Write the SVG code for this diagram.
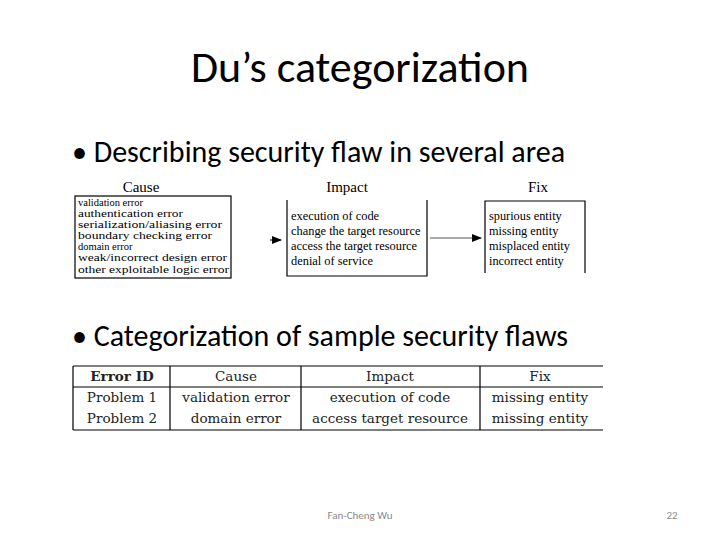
<svg xmlns="http://www.w3.org/2000/svg" width="720" height="540" viewBox="0 0 720 540">
<style>
.t{font-family:"Liberation Serif",serif;fill:#000}
.s{font-family:Calibri,Carlito,"Liberation Sans",sans-serif;fill:#000}
.c{font-family:"DejaVu Serif","Liberation Serif",serif;fill:#222;font-size:13.5px}
.b{fill:none;stroke:#000;stroke-width:1.2}
</style>
<defs><marker id="a" markerWidth="10" markerHeight="8" refX="9" refY="4" orient="auto" markerUnits="userSpaceOnUse"><path d="M0,0L10,4L0,8z" fill="#000"/></marker></defs>
<rect width="720" height="540" fill="#fff"/>
<text class="s" x="360" y="82" font-size="44" text-anchor="middle">Du’s categorization</text>
<text class="s" x="72" y="162" font-size="30">• Describing security flaw in several area</text>
<text class="s" x="72" y="346" font-size="30">• Categorization of sample security flaws</text>
<g id="cause">
<text class="t" x="141" y="192" font-size="15" text-anchor="middle">Cause</text>
<rect class="b" x="75" y="196" width="156" height="82"/>
<text class="t" font-size="10.5" x="78"><tspan y="206">validation error</tspan><tspan x="78" y="217" textLength="105" lengthAdjust="spacingAndGlyphs">authentication error</tspan><tspan x="78" y="228" textLength="144" lengthAdjust="spacingAndGlyphs">serialization/aliasing error</tspan><tspan x="78" y="239" textLength="134" lengthAdjust="spacingAndGlyphs">boundary checking error</tspan><tspan x="78" y="250">domain error</tspan><tspan x="78" y="261" textLength="149" lengthAdjust="spacingAndGlyphs">weak/incorrect design error</tspan><tspan x="78" y="273" textLength="151" lengthAdjust="spacingAndGlyphs">other exploitable logic error</tspan></text>
</g>
<g id="impact">
<text class="t" x="347" y="192" font-size="15" text-anchor="middle">Impact</text>
<path class="b" d="M287,200V276H427V200"/>
<text class="t" font-size="12.4" x="291"><tspan y="220">execution of code</tspan><tspan x="291" y="235">change the target resource</tspan><tspan x="291" y="250">access the target resource</tspan><tspan x="291" y="265">denial of service</tspan></text>
</g>
<g id="fix">
<text class="t" x="538" y="192" font-size="15" text-anchor="middle">Fix</text>
<path class="b" d="M485,273V201H585V273"/>
<text class="t" font-size="12.3" x="489"><tspan y="220">spurious entity</tspan><tspan x="489" y="235">missing entity</tspan><tspan x="489" y="250">misplaced entity</tspan><tspan x="489" y="265">incorrect entity</tspan></text>
</g>
<g id="connectors">
<line x1="270" y1="240" x2="281" y2="240" stroke="#000" stroke-width="1" marker-end="url(#a)"/>
<line x1="430" y1="238" x2="481" y2="238" stroke="#555" stroke-width="1" marker-end="url(#a)"/>
</g>
<g id="table">
<path class="b" d="M73,366H603M73,387H603M73,430H603M73,366V430M170,366V430M301,366V430M480,366V430" stroke-width="1"/>
<text class="c" x="122" y="381" text-anchor="middle" font-weight="bold">Error ID</text>
<text class="c" x="236" y="381" text-anchor="middle">Cause</text>
<text class="c" x="390" y="381" text-anchor="middle">Impact</text>
<text class="c" x="540" y="381" text-anchor="middle">Fix</text>
<text class="c" x="122" y="402" text-anchor="middle">Problem 1</text>
<text class="c" x="236" y="402" text-anchor="middle">validation error</text>
<text class="c" x="390" y="402" text-anchor="middle">execution of code</text>
<text class="c" x="540" y="402" text-anchor="middle">missing entity</text>
<text class="c" x="122" y="423" text-anchor="middle">Problem 2</text>
<text class="c" x="236" y="423" text-anchor="middle">domain error</text>
<text class="c" x="390" y="423" text-anchor="middle">access target resource</text>
<text class="c" x="540" y="423" text-anchor="middle">missing entity</text>
</g>
<text class="s" x="360" y="519" font-size="11" text-anchor="middle" style="fill:#8a8a8a">Fan-Cheng Wu</text>
<text class="s" x="672" y="519" font-size="11" text-anchor="middle" style="fill:#8a8a8a">22</text>
</svg>
